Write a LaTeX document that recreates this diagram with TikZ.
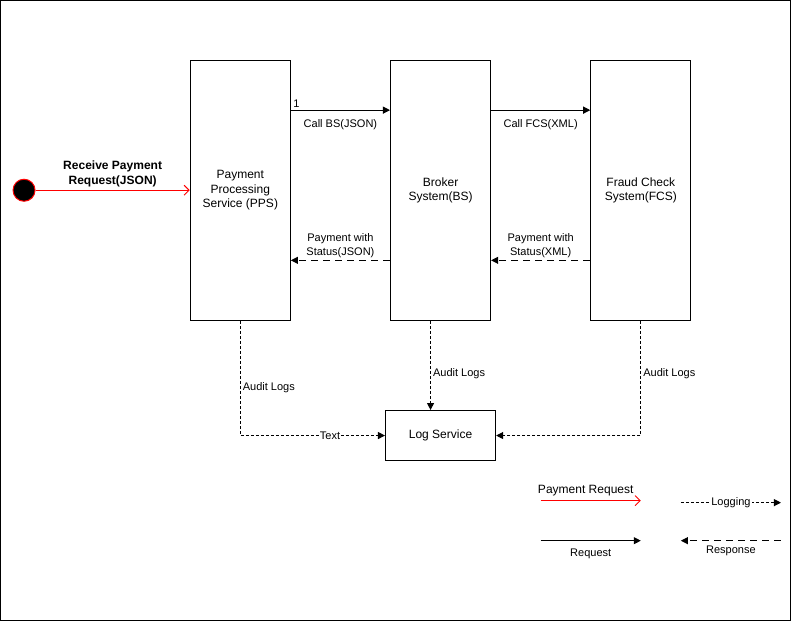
\documentclass[tikz,border=0pt]{standalone}
\usepackage{fontspec}
\setmainfont{Liberation Sans}
\usetikzlibrary{arrows.meta,positioning,calc}

\begin{document}
\begin{tikzpicture}[x=1pt, y=-1pt]
	\tikzstyle{service}=[draw=black, line width=1pt, minimum width=100pt, minimum height=260pt, align=center, font=\fontsize{12}{14.5}\selectfont];
	\tikzstyle{lbl}=[text=black, font=\fontsize{11}{14}\selectfont, align=center, inner sep=2pt];
	\tikzstyle{req}=[line width=1pt, -{Triangle[length=7pt, width=7pt]}];
	\tikzstyle{resp}=[req, dash pattern=on 7pt off 5pt];
	\tikzstyle{logs}=[req, dash pattern=on 3pt off 2pt];
	\tikzstyle{payreq}=[line width=1pt, red, -{Straight Barb[length=5pt, width=10pt]}];

	\useasboundingbox (0, 0) rectangle (790, 620);
	\draw[line width=1pt] (0.5, 0.5) rectangle (789.5, 619.5);

	% services
	\node[service] (PPS) at (240, 190) {Payment\\Processing\\Service (PPS)};
	\node[service] (BS) at (440, 190) {Broker\\System(BS)};
	\node[service] (FCS) at (640, 190) {Fraud Check\\System(FCS)};
	\node[draw=black, line width=1pt, minimum width=110pt, minimum height=50pt, font=\fontsize{12}{14.5}\selectfont] (log) at (440, 435) {Log Service};
	\node[circle, draw=red, fill=black, line width=1pt, minimum size=22pt, inner sep=0pt] (start) at (24, 190) {};

	% calls and responses
	\draw[payreq] (start) -- node[above=-1pt, text=black, font=\bfseries\fontsize{12}{15}\selectfont, align=center] {Receive Payment\\Request(JSON)} (PPS.west);
	\draw[req] ([yshift=80pt]PPS.east) -- node[lbl, at start, above right] {1} node[lbl, below=7pt] {Call BS(JSON)} ([yshift=80pt]BS.west);
	\draw[req] ([yshift=80pt]BS.east) -- node[lbl, below=7pt] {Call FCS(XML)} ([yshift=80pt]FCS.west);
	\draw[resp] ([yshift=-70pt]BS.west) -- node[lbl, above=0pt] {Payment with\\Status(JSON)} ([yshift=-70pt]PPS.east);
	\draw[resp] ([yshift=-70pt]FCS.west) -- node[lbl, above=0pt] {Payment with\\Status(XML)} ([yshift=-70pt]BS.east);

	% audit logs
	\draw[logs] (PPS.south) |- node[lbl, pos=0.29, right] {Audit Logs} node[lbl, pos=0.81, fill=white, inner sep=1pt] {Text} (log.west);
	\draw[logs] ([xshift=-10pt]BS.south) -- node[lbl, pos=0.59, right] {Audit Logs} ([xshift=-10pt]log.north);
	\draw[logs] (FCS.south) |- node[lbl, pos=0.23, right] {Audit Logs} (log.east);

	% legend
	\coordinate (pr1) at (540, 500);
	\coordinate (pr2) at (640, 500);
	\coordinate (lg1) at (680, 502);
	\coordinate (lg2) at (780, 502);
	\coordinate (rq1) at (540, 540);
	\coordinate (rq2) at (640, 540);
	\coordinate (rs1) at (780, 540);
	\coordinate (rs2) at (680, 540);
	\draw[payreq] (pr1) -- node[pos=0.45, above=1pt, text=black, font=\fontsize{12}{14.5}\selectfont] {Payment Request} (pr2);
	\draw[logs] (lg1) -- node[lbl, fill=white, inner sep=1pt] {Logging} (lg2);
	\draw[req] (rq1) -- node[lbl, below=6pt] {Request} (rq2);
	\draw[resp] (rs1) -- node[lbl, below=3pt] {Response} (rs2);
\end{tikzpicture}
\end{document}
